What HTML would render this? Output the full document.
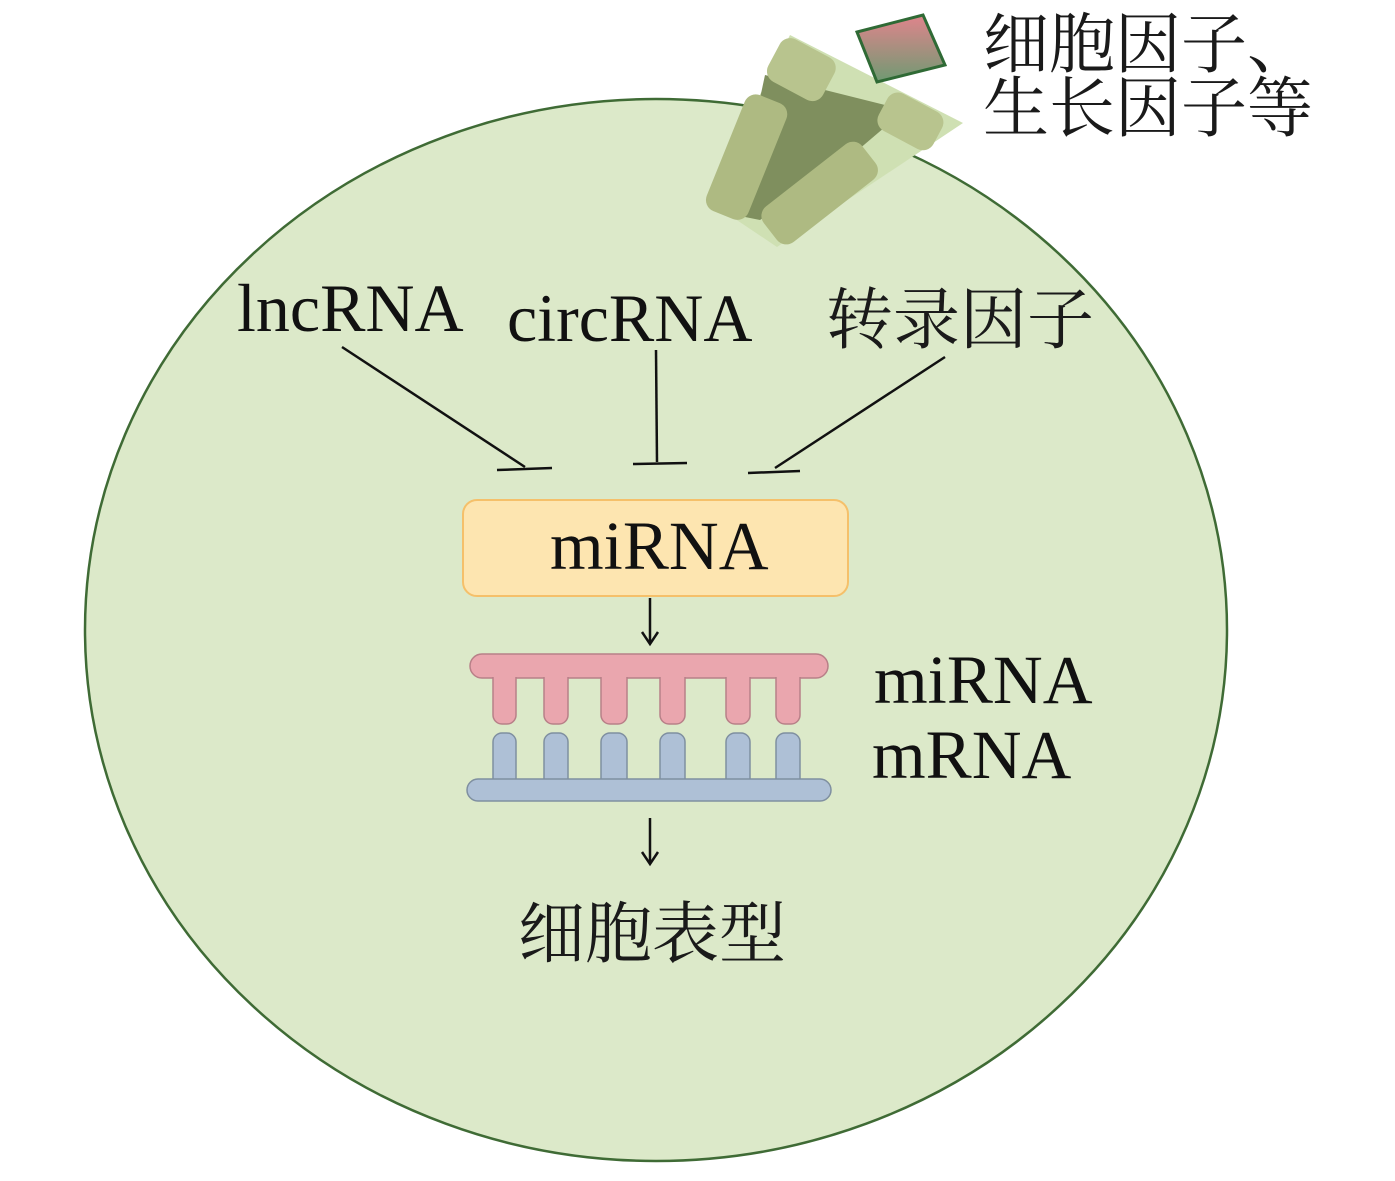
<!DOCTYPE html>
<html><head><meta charset="utf-8"><style>
body{margin:0;background:#fff;width:1395px;height:1181px;overflow:hidden}
svg{display:block}
.t{font-family:"Liberation Serif","Noto Serif CJK SC",serif;fill:#111}
.c{font-family:"Liberation Serif","Noto Serif CJK SC",serif;fill:#1a1a1a}
</style></head><body>
<svg width="1395" height="1181" viewBox="0 0 1395 1181">
<defs>
<linearGradient id="pg" x1="0" y1="0" x2="0" y2="1"><stop offset="0" stop-color="#e0848c"/><stop offset="1" stop-color="#6f9a72"/></linearGradient>
</defs>
<ellipse cx="656" cy="630" rx="571" ry="531" fill="#dce9c9" stroke="#3f6b35" stroke-width="2.5"/>
<!-- receptor -->
<polygon points="790,35 963,123 777,247 707,200" fill="#cfe0b3"/>
<polygon points="765,75 905,110 858,150 760,220 735,215" fill="#7f8f5e"/>
<rect x="770" y="45" width="62" height="48" rx="12" fill="#b8c48e" transform="rotate(28 800 70)"/>
<rect x="880" y="100" width="62" height="42" rx="12" fill="#b8c48e" transform="rotate(28 910 120)"/>
<rect x="725" y="95" width="45" height="125" rx="12" fill="#aeba82" transform="rotate(22 748 155)"/>
<rect x="795" y="130" width="45" height="125" rx="12" fill="#aeba82" transform="rotate(52 818 195)"/>
<polygon points="857,32 923,15 945,65 877,82" fill="url(#pg)" stroke="#2f6a35" stroke-width="3"/>
<text class="c" font-size="66"><tspan x="983" y="67">细胞因子、</tspan><tspan x="983" y="131">生长因子等</tspan></text>
<!-- labels -->
<text class="t" x="237" y="331" font-size="68">lncRNA</text>
<text class="t" x="507" y="341" font-size="68">circRNA</text>
<text class="c" x="826" y="343" font-size="67">转录因子</text>
<g stroke="#111" stroke-width="2.5" fill="none">
<line x1="342" y1="347" x2="525" y2="467"/><line x1="497" y1="470" x2="552" y2="468"/>
<line x1="656" y1="350" x2="657" y2="462"/><line x1="633" y1="464" x2="687" y2="463"/>
<line x1="945" y1="357" x2="775" y2="468"/><line x1="748" y1="473" x2="800" y2="471"/>
<line x1="650" y1="598" x2="650" y2="643"/><polyline points="642,632 650,644 658,632"/>
<line x1="650" y1="818" x2="650" y2="863"/><polyline points="642,852 650,864 658,852"/>
</g>
<rect x="463" y="500" width="385" height="96" rx="14" fill="#fde5b0" stroke="#f5c06a" stroke-width="2"/>
<text class="t" x="550" y="569" font-size="69">miRNA</text>
<!-- duplex -->
<g fill="#eaa6ae" stroke="#b88088" stroke-width="1.5">
<rect x="470" y="654" width="358" height="24" rx="12"/>
<rect x="493" y="668" width="23" height="56" rx="9"/><rect x="544" y="668" width="24" height="56" rx="9"/>
<rect x="601" y="668" width="26" height="56" rx="9"/><rect x="660" y="668" width="25" height="56" rx="9"/>
<rect x="726" y="668" width="24" height="56" rx="9"/><rect x="776" y="668" width="24" height="56" rx="9"/>
<rect x="471" y="655" width="356" height="22" rx="11" stroke="none"/>
</g>
<g fill="#aec0d6" stroke="#7f8fa0" stroke-width="1.5">
<rect x="493" y="733" width="23" height="57" rx="9"/><rect x="544" y="733" width="24" height="57" rx="9"/>
<rect x="601" y="733" width="26" height="57" rx="9"/><rect x="660" y="733" width="25" height="57" rx="9"/>
<rect x="726" y="733" width="24" height="57" rx="9"/><rect x="776" y="733" width="24" height="57" rx="9"/>
<rect x="467" y="779" width="364" height="22" rx="11"/>
</g>
<text class="t" x="874" y="703" font-size="69">miRNA</text>
<text class="t" x="872" y="778" font-size="69">mRNA</text>
<text class="c" x="518" y="957" font-size="67">细胞表型</text>
</svg>
</body></html>
